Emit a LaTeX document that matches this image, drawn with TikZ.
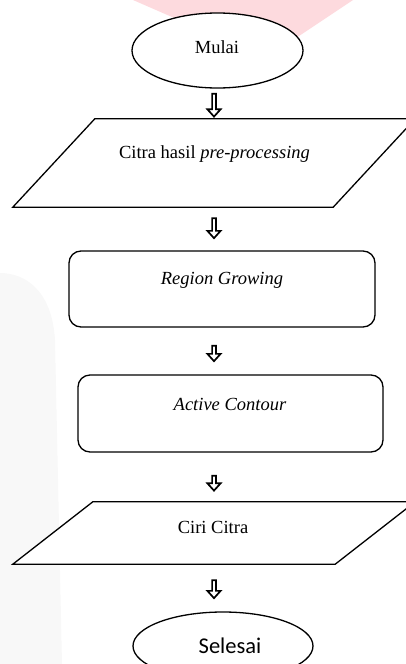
\documentclass[tikz,border=0pt]{standalone}
\usepackage{fontspec}
\setmainfont{Liberation Serif}
\newfontfamily\calibfont{Carlito}
\usetikzlibrary{shapes.geometric,calc}
\definecolor{wmpink}{RGB}{253,218,222}
\definecolor{wmgray}{RGB}{248,248,248}
\tikzset{
  outline/.style={draw=black, line width=1.3pt, fill=white},
  term/.style={outline, ellipse, inner sep=0pt},
  procbox/.style={outline, rectangle, rounded corners=12pt, inner sep=0pt},
  iobody/.style={rectangle, inner sep=0pt, draw=none},
  ioline/.style={draw=black, line width=1.3pt, fill=white, line join=miter},
  lbl/.style={anchor=base, inner sep=0pt, font=\fontsize{18.5}{20}\selectfont},
  hollow/.style 2 args={draw=black, line width=1.7pt, line join=miter, fill=white,
    to path={let \p1=(\tikztostart.south), \p2=(\tikztotarget.north) in
      (212.1pt,\y1-#1pt) -- (215.9pt,\y1-#1pt) -- (215.9pt,\y2+#2pt+8.5pt) --
      (220.6pt,\y2+#2pt+8.5pt) -- (214pt,\y2+#2pt+1.2pt) -- (207.4pt,\y2+#2pt+8.5pt) --
      (212.1pt,\y2+#2pt+8.5pt) -- cycle}}
}
\begin{document}
\begin{tikzpicture}[x=1pt,y=-1pt]
\path[use as bounding box] (0,0) rectangle (406,664);
\clip (0,0) rectangle (406,664);
% background watermarks
\fill[wmpink] (133,0) -- (353,0) -- (266,58) -- cycle;
\fill[wmgray] (0,273) .. controls (25,273) and (52,290) .. (55,340) -- (62,664) -- (0,664) -- cycle;
% shapes
\node[term, minimum width=171pt, minimum height=75pt] (mulai) at (217.5,50.5) {};
\node[iobody, minimum width=320pt, minimum height=88pt] (p1) at (214,163) {};
\draw[ioline] ($(p1.south west)+(-41,0)$) -- ($(p1.south east)+(-41,0)$) -- ($(p1.north east)+(41,0)$) -- ($(p1.north west)+(41,0)$) -- cycle;
\node[procbox, minimum width=306pt, minimum height=76pt] (rg) at (222,289) {};
\node[procbox, minimum width=305pt, minimum height=77pt] (ac) at (230.5,413.5) {};
\node[iobody, minimum width=322pt, minimum height=62pt] (p2) at (214,533) {};
\draw[ioline] ($(p2.south west)+(-40,0)$) -- ($(p2.south east)+(-40,0)$) -- ($(p2.north east)+(40,0)$) -- ($(p2.north west)+(40,0)$) -- cycle;
\node[term, minimum width=180pt, minimum height=68pt] (sel) at (223,646) {};
% labels
\node[lbl] (t1) at (217,53) {Mulai};
\node[lbl] (t2) at (214.5,158) {Citra hasil \textit{pre-processing}};
\node[lbl] (t3) at (222,284) {\textit{Region Growing}};
\node[lbl] (t4) at (230,410) {\textit{Active Contour}};
\node[lbl] (t5) at (213,533) {Ciri Citra};
\node[anchor=base, inner sep=0pt, font=\calibfont\fontsize{22.5}{24}\selectfont] (t6) at (230,653) {Selesai};
% connectors
\draw[hollow={5}{1}] (mulai) to (p1);
\draw[hollow={11}{11}] (p1) to (rg);
\draw[hollow={18}{12}] (rg) to (ac);
\draw[hollow={23}{10}] (ac) to (p2);
\draw[hollow={16}{12}] (p2) to (sel);
\end{tikzpicture}
\end{document}
